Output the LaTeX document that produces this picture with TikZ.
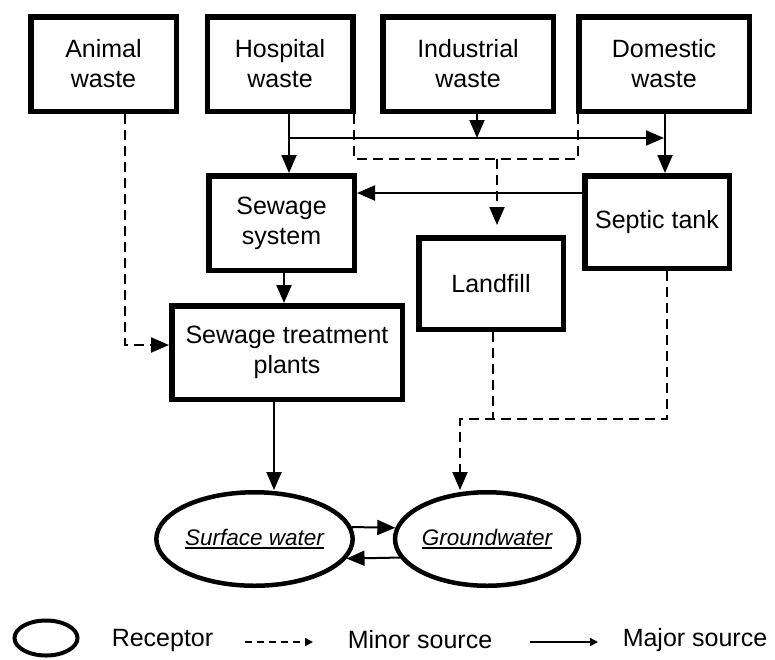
\documentclass[tikz,border=0pt]{standalone}
\usepackage{fontspec}
\setmainfont{Liberation Sans}
\usetikzlibrary{arrows.meta,shapes.geometric}
\newcommand\myul[1]{\setbox0\hbox{#1}\rlap{\rule[-3.5pt]{\wd0}{1.6pt}}\box0}
\begin{document}
\begin{tikzpicture}[x=1pt,y=-1pt,
  box/.style={draw, line width=5.5pt, inner sep=0pt, align=center, font=\fontsize{25}{30}\selectfont},
  rec/.style={draw, ellipse, line width=4.5pt, inner sep=0pt, minimum width=176.5pt, minimum height=93.5pt, font=\fontsize{22.5}{27}\selectfont\itshape},
  conn/.style={line width=2pt},
  major/.style={conn, -{Triangle[length=18pt,width=15pt]}},
  conndash/.style={conn, dash pattern=on 10pt off 6pt},
  minor/.style={major, dash pattern=on 10pt off 6pt},
  legtext/.style={font=\fontsize{25}{30}\selectfont, inner sep=0pt}]
\useasboundingbox (0,0) rectangle (775,659);
% boxes
\node[box, minimum width=145.5pt, minimum height=94.5pt] (animal) at (103.5,64) {Animal\\waste};
\node[box, minimum width=145.5pt, minimum height=94.5pt] (hosp) at (280,64) {Hospital\\waste};
\node[box, minimum width=170.5pt, minimum height=94.5pt] (ind) at (468,64) {Industrial\\waste};
\node[box, minimum width=170.5pt, minimum height=94.5pt] (dom) at (664,64) {Domestic\\waste};
\node[box, minimum width=145.5pt, minimum height=94.5pt] (sew) at (281.5,223) {Sewage\\system};
\node[box, minimum width=144.5pt, minimum height=92.5pt] (sep) at (657,222) {Septic tank};
\node[box, minimum width=144.5pt, minimum height=91.5pt] (land) at (491,283.5) {Landfill};
\node[box, minimum width=230.5pt, minimum height=93.5pt] (stp) at (287,352.5) {Sewage treatment\\plants};
\node[rec] (sw) at (254.5,539) {\myul{Surface water}};
\node[rec] (gw) at (487,539) {\myul{Groundwater}};
% junction coordinates
\coordinate (hj) at (289,138);
\coordinate (ij) at (477,138);
\coordinate (dj) at (665,138);
\coordinate (d1) at (354,159);
\coordinate (d2) at (578,159);
\coordinate (d3) at (497,159);
\coordinate (lj) at (493,419);
\coordinate (gj) at (460,419);
% major sources
\draw[major] (hosp.south -| hj) -- (sew.north -| hj);
\draw[major, shorten >=1pt] (hj) -- (dj);
\draw[major] (ind.south -| ij) -- (ij);
\draw[major] (dom.south -| dj) -- (sep.north -| dj);
\draw[major] (sep.west |- 0,193) -- (sew.east |- 0,193);
\draw[major] (sew.south -| 284,0) -- (stp.north -| 284,0);
\draw[major] (stp.south -| 274,0) -- (sw.north -| 274,0);
\draw[major] (sw.7) -- (gw.173);
\draw[major] (gw.192) -- (sw.-12);
% minor sources
\draw[conndash] (hosp.south -| d1) -- (d1) -- (d2) -- (dom.south -| d2);
\draw[minor, shorten >=10pt] (d3) -- (land.north -| d3);
\draw[minor] (animal.south -| 125,0) |- (stp.west |- 0,345);
\draw[conndash] (land.south -| lj) -- (lj);
\draw[minor] (sep.south -| 667,0) |- (gj) -- (gw.north -| gj);
% legend
\node[draw, ellipse, line width=4pt, minimum width=63pt, minimum height=35pt, inner sep=0pt] (lrec) at (46,638) {};
\node[legtext] (lrect) at (162.5,640) {Receptor};
\coordinate (lm1) at (245,642);
\coordinate (lm2) at (313,642);
\draw[line width=1.5pt, dash pattern=on 7pt off 5pt, -{Triangle[length=8pt,width=8pt]}] (lm1) -- (lm2);
\node[legtext] (lmin) at (420,640) {Minor source};
\coordinate (lj1) at (530,642);
\coordinate (lj2) at (598,642);
\draw[line width=1.5pt, -{Triangle[length=8pt,width=8pt]}] (lj1) -- (lj2);
\node[legtext] (lmaj) at (695,640) {Major source};
\end{tikzpicture}
\end{document}
